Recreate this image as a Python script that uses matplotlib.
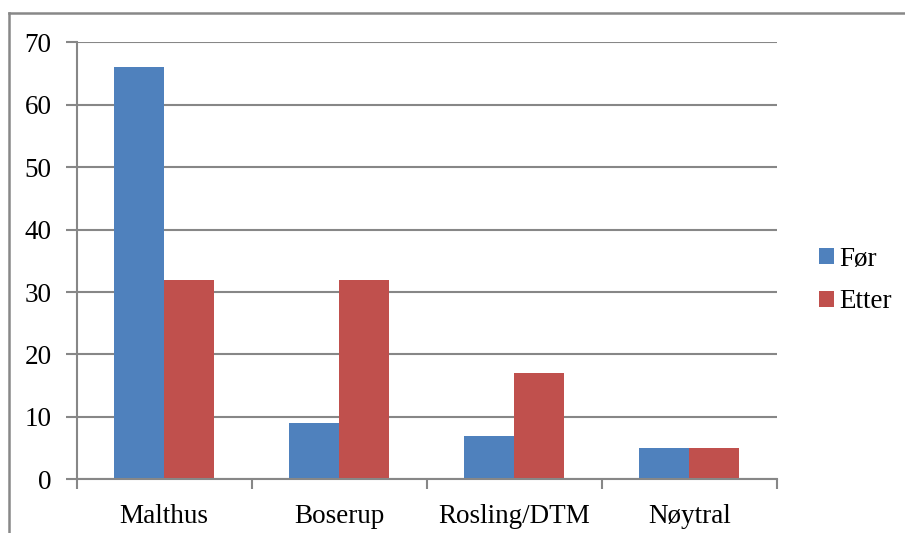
import numpy as np
import matplotlib.pyplot as plt
from matplotlib.lines import Line2D

categories = ["Malthus", "Boserup", "Rosling/DTM", "Nøytral"]
before = [66, 9, 7, 5]
after = [32, 32, 17, 5]
series_names = ["Før", "Etter"]
y_ticks = [0, 10, 20, 30, 40, 50, 60, 70]

plt.rcParams['font.family'] = ['Liberation Serif', 'DejaVu Serif']
plt.rcParams['font.size'] = 19.5

grid_color = '#878787'
blue = '#4F81BD'
red = '#C0504D'

fig = plt.figure(figsize=(9.05, 5.33), dpi=100)
ax = fig.add_axes([0.0847, 0.1007, 0.8582 - 0.0847, 0.9206 - 0.1007])

x = np.arange(len(categories))
w = 0.284
ax.bar(x - w / 2, before, w, color=blue, label=series_names[0], zorder=3)
ax.bar(x + w / 2, after, w, color=red, label=series_names[1], zorder=3)

ax.set_xlim(-0.5, len(categories) - 0.5)
ax.set_ylim(0, 70)
ax.set_yticks(y_ticks)
ax.set_xticks(x)
ax.set_xticklabels(categories)
ax.tick_params(axis='x', length=0, pad=18)
ax.tick_params(axis='y', length=8, width=1.5, color=grid_color, pad=10)

# category separators below the axis
ax.set_xticks(np.arange(len(categories) + 1) - 0.5, minor=True)
ax.tick_params(axis='x', which='minor', length=7, width=1.5, color=grid_color)

ax.yaxis.grid(True, color=grid_color, linewidth=1.5, zorder=0)
for side in ['top', 'right']:
    ax.spines[side].set_visible(False)
for side in ['left', 'bottom']:
    ax.spines[side].set_color(grid_color)
    ax.spines[side].set_linewidth(1.5)
    ax.spines[side].set_zorder(4)

leg = ax.legend(loc='center left', bbox_to_anchor=(1.045, 0.455), frameon=False,
                handlelength=0.55, handleheight=0.55, handletextpad=0.2,
                labelspacing=0.66, borderaxespad=0)

# outer chart border (left and top edges)
fig.add_artist(Line2D([0.0099, 0.0099], [0, 0.9756], color='#888888', lw=1.8))
fig.add_artist(Line2D([0.0099, 1.0], [0.9756, 0.9756], color='#888888', lw=1.8))

fig.savefig('out.png', dpi=100)
